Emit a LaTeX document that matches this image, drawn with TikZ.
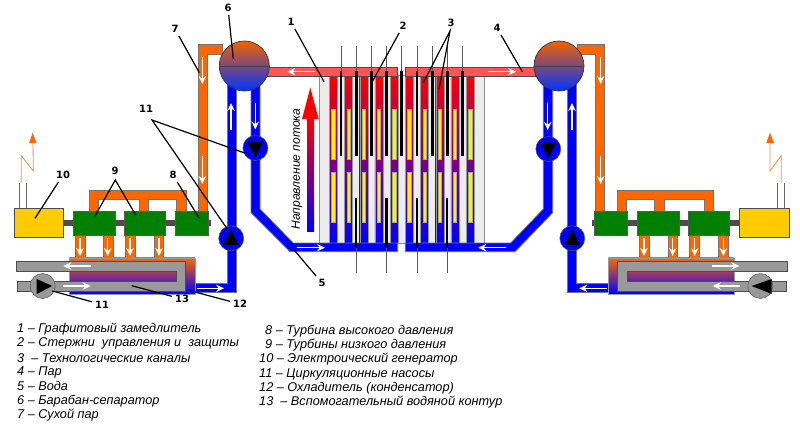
\documentclass[tikz,border=0pt]{standalone}
\usepackage{fontspec}
\setmainfont{Liberation Sans}
\newfontfamily\numfont{DejaVu Sans}
\usetikzlibrary{arrows.meta}
\definecolor{steam}{HTML}{FF5555}
\definecolor{dry}{HTML}{FF6600}
\definecolor{graphite}{HTML}{ECECEC}
\definecolor{genyellow}{HTML}{FFCC00}
\definecolor{shaft}{HTML}{4D4D4D}
\definecolor{loopgray}{HTML}{999999}
\definecolor{rodpurple}{HTML}{800080}
\tikzset{
  wire/.style={draw=black!55, line width=0.7pt},
  water/.style={wire, fill=blue},
  drypipe/.style={wire, fill=dry},
  steampipe/.style={draw=black!70, line width=0.7pt, fill=steam},
  loop/.style={draw=black!70, line width=0.8pt, fill=loopgray},
  channel/.style={draw=black!40, line width=0.4pt, top color=red, middle color=rodpurple, bottom color=blue},
  fuel/.style={draw=black!35, line width=0.3pt, fill=yellow},
  turbine/.style={draw=black!65, line width=0.6pt, fill=green!50!black, inner sep=0pt, minimum height=24.7},
  generator/.style={draw=black!70, line width=0.7pt, fill=genyellow, inner sep=0pt, minimum width=49.5, minimum height=29},
  pump/.style={circle, draw=black!65, line width=0.5pt, inner sep=0pt, minimum size=25},
  drum/.style={circle, draw=black!80, line width=0.7pt, inner sep=0pt, minimum size=50, top color=dry!95!black, middle color=rodpurple!45!loopgray, bottom color=blue!80!cyan},
  flow/.style={white, line width=1.2pt, -{Stealth[length=8pt,width=7.5pt]}},
  leader/.style={black, line width=1.2pt},
  num/.style={font=\numfont\bfseries\fontsize{10}{11}\selectfont, inner sep=3pt},
  legend/.style={font=\itshape\fontsize{12.7}{14}\selectfont, anchor=west, inner sep=0pt},
}
\begin{document}
\begin{tikzpicture}[x=1pt, y=-1pt]
    \useasboundingbox (0,0) rectangle (800,429);

    % core
    \draw[draw=black!45, line width=0.7pt, fill=graphite] (319.5,75.5) rectangle (484,243);
    \foreach \i in {0,...,9} {
        \pgfmathsetmacro\cx{329.3+15.2*\i}
        \draw[channel] (\cx,75) rectangle (\cx+8,243);
        \draw[fuel] (\cx+2.3,109) rectangle (\cx+5.7,159);
        \draw[fuel] (\cx+2.3,172) rectangle (\cx+5.7,222);
    }

    % steam and water headers
    \draw[steampipe] (267,67) rectangle (397.7,76);
    \draw[steampipe] (405.3,67) rectangle (535,76);
    \draw[water] (251,80) -- (260,80) -- (260,209) -- (293.3,243) -- (397.7,243) -- (397.7,251.7) -- (290,251.7) -- (251,212.7) -- cycle;
    \draw[water] (552.7,80) -- (543.3,80) -- (543.3,209) -- (510.7,243) -- (405.3,243) -- (405.3,251.7) -- (515,251.7) -- (552.7,212.7) -- cycle;
    \draw[water] (227.3,80) -- (236,80) -- (236,292.7) -- (195,292.7) -- (195,283) -- (227.3,283) -- cycle;
    \draw[water] (576,80) -- (567.3,80) -- (567.3,292.7) -- (608.3,292.7) -- (608.3,283) -- (576,283) -- cycle;

    % control rods
    \foreach \i in {0,...,8} {
        \pgfmathsetmacro\rx{341+15.2*\i}
        \draw[black!65, line width=0.9pt] (\rx,46) -- (\rx,71);
        \draw[black, line width=2.8pt] (\rx,71) -- (\rx,156);
    }
    \foreach \rx in {356,386.5,417,447} {
        \draw[black!65, line width=0.9pt] (\rx,248) -- (\rx,273);
        \draw[black, line width=2.8pt] (\rx,198) -- (\rx,248);
    }

    % dry steam
    \draw[drypipe] (222,44.3) -- (198.3,44.3) -- (198.3,211) -- (207.7,211) -- (207.7,54.3) -- (222,54.3) -- cycle;
    \draw[drypipe] (577,44.3) -- (604.3,44.3) -- (604.3,211) -- (595,211) -- (595,54.3) -- (577,54.3) -- cycle;
    \draw[drypipe] (89.3,211) -- (89.3,190) -- (186,190) -- (186,211) -- (176.7,211) -- (176.7,199.3) -- (148.7,199.3) -- (148.7,211) -- (139.3,211) -- (139.3,199.3) -- (98.3,199.3) -- (98.3,211) -- cycle;
    \draw[drypipe] (617.3,211) -- (617.3,190) -- (713.7,190) -- (713.7,211) -- (704.3,211) -- (704.3,199.3) -- (664.3,199.3) -- (664.3,211) -- (654.7,211) -- (654.7,199.3) -- (626.7,199.3) -- (626.7,211) -- cycle;
    \foreach \x in {75.3,103.5,125.3,154,639.3,668,689.7,718.3}
        \draw[drypipe] (\x,235) rectangle (\x+9.8,258);

    % condensers and auxiliary loops
    \draw[draw=black!40, line width=0.4pt, top color=dry, middle color=rodpurple, bottom color=blue] (69.3,257.7) rectangle (195,294);
    \draw[draw=black!40, line width=0.4pt, top color=dry, middle color=rodpurple, bottom color=blue] (608.3,257.7) rectangle (733.7,294);
    \draw[loop] (16.7,261.7) -- (185.7,261.7) -- (185.7,291.3) -- (17.3,291.3) -- (17.3,281.7) -- (176,281.7) -- (176,271) -- (16.7,271) -- cycle;
    \draw[loop] (787,261.7) -- (617.3,261.7) -- (617.3,291.3) -- (786,291.3) -- (786,281.7) -- (627,281.7) -- (627,271) -- (787,271) -- cycle;

    % shafts, turbines, generators
    \fill[shaft] (60,219.5) rectangle (210.7,226);
    \fill[shaft] (592,219.5) rectangle (742,226);
    \node[turbine, minimum width=41.7] (lp1) at (94.2,223.4) {};
    \node[turbine, minimum width=41.4] (lp2) at (145,223.4) {};
    \node[turbine, minimum width=33.4] (hp1) at (192,223.4) {};
    \node[turbine, minimum width=33.4] (hp2) at (611,223.4) {};
    \node[turbine, minimum width=41.7] (lp3) at (658.2,223.4) {};
    \node[turbine, minimum width=41.4] (lp4) at (709,223.4) {};
    \node[generator] (gen1) at (38.7,222.8) {};
    \node[generator] (gen2) at (764.5,222.8) {};

    % generator leads and lightning
    \draw[black!60, line width=0.8pt] (19.3,183.3) -- (gen1.north -| 19.3,0);
    \draw[black!60, line width=0.8pt] (26,183.3) -- (gen1.north -| 26,0);
    \draw[black!60, line width=0.8pt] (777.3,183.3) -- (gen2.north -| 777.3,0);
    \draw[black!60, line width=0.8pt] (784,183.3) -- (gen2.north -| 784,0);
    \draw[dry!75, line width=0.8pt] (21.3,182.7) -- (21.3,155.7) -- (33.3,171) -- (33,140);
    \fill[dry] (32.7,132.7) -- (36.5,143) -- (29,143) -- cycle;
    \draw[dry!75, line width=0.8pt] (781.3,182.7) -- (781.3,155.7) -- (770,171) -- (770,140);
    \fill[dry] (770,132.7) -- (774,143) -- (766.3,143) -- cycle;

    % drums
    \node[drum] (drum1) at (244.3,66) {};
    \node[drum] (drum2) at (559,66) {};
    \draw[black!75, line width=0.5pt] (drum1.west) -- (drum1.east);
    \draw[black!75, line width=0.5pt] (drum2.west) -- (drum2.east);
    \draw[black!75, line width=1pt, dashed, dash pattern=on 3pt off 1pt] (drum1.west) -- (drum1.east);
    \draw[black!75, line width=1pt, dashed, dash pattern=on 3pt off 1pt] (drum2.west) -- (drum2.east);

    % pumps
    \node[pump, fill=blue] (pump1) at (255.4,148) {};
    \node[pump, fill=blue] (pump2) at (231.2,238.3) {};
    \node[pump, fill=blue] (pump3) at (548.3,149) {};
    \node[pump, fill=blue] (pump4) at (572.3,238.3) {};
    \node[pump, fill=loopgray] (pump5) at (42.7,286) {};
    \node[pump, fill=loopgray] (pump6) at (760.3,286) {};
    \fill (247.3,142) -- (263,142) -- (255.3,157.5) -- cycle;
    \fill (223.3,245) -- (238.8,245) -- (231,229.3) -- cycle;
    \fill (540.6,142.5) -- (556.4,142.5) -- (548.5,158.3) -- cycle;
    \fill (564.8,245) -- (580,245) -- (572.4,229) -- cycle;
    \fill (36.7,279) -- (36.7,294) -- (52.3,286) -- cycle;
    \fill (771.7,279) -- (771.7,294) -- (751.7,286) -- cycle;

    % flow direction
    \shade[top color=red, middle color=rodpurple, bottom color=blue] (307,119) rectangle (314,231);
    \fill[red] (310.3,87.7) -- (318.7,119) -- (302,119) -- cycle;
    \node[rotate=90, font=\itshape\fontsize{12.1}{14}\selectfont, inner sep=0pt] (flowtext) at (297,169) {Направление потока};

    % white arrows
    \foreach \xa/\ya/\xb/\yb in {
        202.3/57/202.3/84, 202.3/156/202.3/184, 600.7/57/600.7/84, 600.7/156/600.7/184,
        231/130/231/103, 255.3/103/255.3/129.5, 547.7/103.3/547.7/130, 572/130/572/103,
        315/71.7/287.3/71.7, 488.3/71.7/516/71.7,
        296.7/247.7/325/247.7, 505.7/247.7/478.3/247.7,
        196.7/288.3/224/288.3, 606.7/288.3/579.3/288.3,
        90.7/266/63.3/266, 62.7/286/90.7/286, 712.3/266/739.3/266, 740/286/712.7/286,
        80/238.3/80/256, 107.7/238.3/107.7/256, 130/238.3/130/256, 159/238.3/159/256,
        644/238.3/644/256, 672.7/238.3/672.7/256, 694.7/238.3/694.7/256, 723.3/238.3/723.3/256}
        \draw[flow] (\xa,\ya) -- (\xb,\yb);

    % numbers
    \node[num] (n1) at (291,22) {1};
    \node[num] (n2) at (403,26) {2};
    \node[num] (n3) at (451,23) {3};
    \node[num] (n4) at (497,28) {4};
    \node[num] (n5) at (322,283) {5};
    \node[num] (n6) at (228,8) {6};
    \node[num] (n7) at (175,29) {7};
    \node[num] (n8) at (173,175) {8};
    \node[num] (n9) at (115,170.5) {9};
    \node[num] (n10) at (63,175) {10};
    \node[num] (n11a) at (146,109) {11};
    \node[num] (n11b) at (102,304.5) {11};
    \node[num] (n12) at (240,304) {12};
    \node[num] (n13) at (182,299) {13};

    % leader ends
    \coordinate (c1) at (324,81.7);
    \coordinate (c2) at (371.7,82.7);
    \coordinate (a3) at (450,31);
    \coordinate (c3a) at (423.3,82.7);
    \coordinate (c3b) at (439,89.3);
    \coordinate (c4) at (522.3,71.7);
    \coordinate (c5) at (292.7,248.3);
    \coordinate (c6) at (233.3,58.7);
    \coordinate (c7) at (199.3,72.7);
    \coordinate (c8) at (199,218);
    \coordinate (a9) at (115.3,180);
    \coordinate (c9a) at (95,216);
    \coordinate (c9b) at (135.7,215);
    \coordinate (c10) at (35,218.3);
    \coordinate (a11) at (152,120);
    \coordinate (c11a) at (248.3,154.3);
    \coordinate (c11b) at (227.3,229);
    \coordinate (c11c) at (52.3,291);
    \coordinate (c12) at (190,290.7);
    \coordinate (c13) at (131.7,285.7);

    \draw[leader] (n1) -- (c1);
    \draw[leader] (n2) -- (c2);
    \draw[leader] (c3a) -- (a3) -- (c3b);
    \draw[leader] (n4) -- (c4);
    \draw[leader] (n5) -- (c5);
    \draw[leader] (n6) -- (c6);
    \draw[leader] (n7) -- (c7);
    \draw[leader] (n8) -- (c8);
    \draw[leader] (c9a) -- (a9) -- (c9b);
    \draw[leader] (n10) -- (c10);
    \draw[leader] (c11a) -- (a11) -- (c11b);
    \draw[leader] (n11b) -- (c11c);
    \draw[leader] (n12) -- (c12);
    \draw[leader] (n13) -- (c13);

    % legend
    \node[legend] (t1) at (17,329) {1 – Графитовый замедлитель};
    \node[legend] (t2) at (17,343) {2 – Стержни\ \ управления и\ \ защиты};
    \node[legend] (t3) at (17,358) {3\ \ – Технологические каналы};
    \node[legend] (t4) at (17,372) {4 – Пар};
    \node[legend] (t5) at (17,386) {5 – Вода};
    \node[legend] (t6) at (17,401) {6 – Барабан-сепаратор};
    \node[legend] (t7) at (17,415) {7 – Сухой пар};
    \node[legend] (t8) at (265,331) {8 – Турбина высокого давления};
    \node[legend] (t9) at (265,345) {9 – Турбины низкого давления};
    \node[legend] (t10) at (259,359.5) {10 – Электроический генератор};
    \node[legend] (t11) at (259,374) {11 – Циркуляционные насосы};
    \node[legend] (t12) at (259,388) {12 – Охладитель (конденсатор)};
    \node[legend] (t13) at (259,402.5) {13\ \ – Вспомогательный водяной контур};
\end{tikzpicture}
\end{document}
